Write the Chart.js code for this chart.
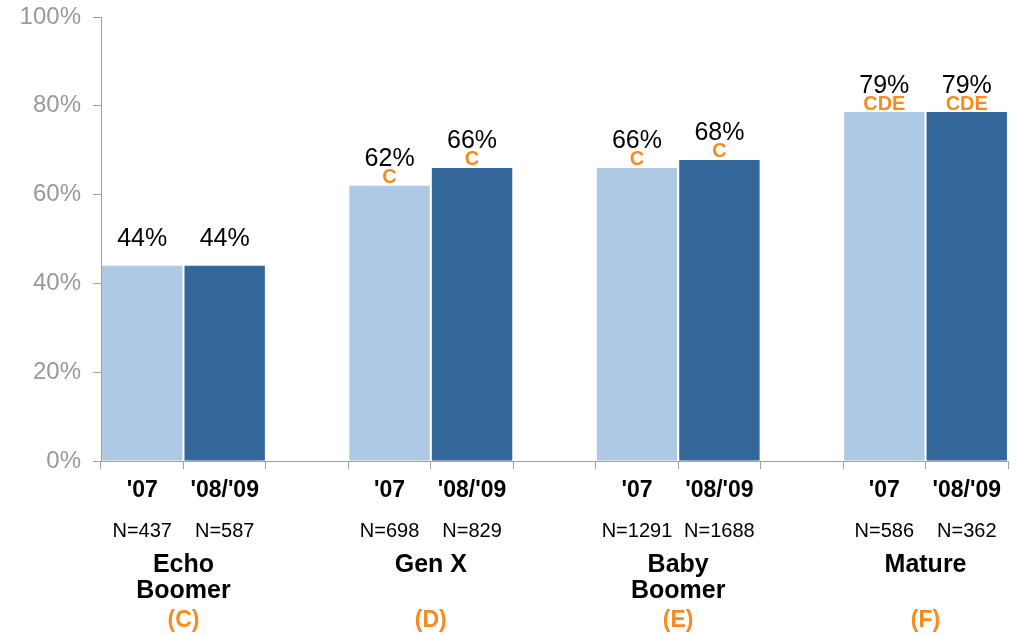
<!DOCTYPE html>
<html><head><meta charset="utf-8">
<script src="https://cdn.jsdelivr.net/npm/chart.js@4/dist/chart.umd.min.js"></script>
<style>html,body{margin:0;padding:0;background:#fff}#wrap{width:1019px;height:634px}</style>
</head><body><div id="wrap"><canvas id="c" width="1019" height="634"></canvas></div>
<script>
const groups = [['Echo','Boomer'], ['Gen X'], ['Baby','Boomer'], ['Mature']];
const groupCodes = ['(C)', '(D)', '(E)', '(F)'];
const years = ["'07", "'08/'09"];
const values07 = [44, 62, 66, 78.6];
const values0809 = [44, 66, 67.8, 78.6];
const n07 = [437, 698, 1291, 586];
const n0809 = [587, 829, 1688, 362];
const sig07 = ['', 'C', 'C', 'CDE'];
const sig0809 = ['', 'C', 'C', 'CDE'];
const yTicks = [0, 20, 40, 60, 80, 100];

const LIGHT = '#adc9e3', DARK = '#336699', ORANGE = '#fa8a1c', GREY = '#a0a0a0';
const FONT = "Arial, 'Liberation Sans', sans-serif";

// build 11 slots: '07, '08/'09, gap ...
const labels = [], data = [], colors = [], meta = [];
groups.forEach((g, i) => {
  labels.push(years[0]); data.push(values07[i]); colors.push(LIGHT); meta.push({g: i, y: 0, n: n07[i], sig: sig07[i]});
  labels.push(years[1]); data.push(values0809[i]); colors.push(DARK); meta.push({g: i, y: 1, n: n0809[i], sig: sig0809[i]});
  if (i < groups.length - 1) { labels.push(''); data.push(null); colors.push('rgba(0,0,0,0)'); meta.push(null); }
});

const labelPlugin = {
  id: 'labels',
  afterDatasetsDraw(chart) {
    const ctx = chart.ctx;
    const m = chart.getDatasetMeta(0);
    ctx.save();
    ctx.textAlign = 'center';
    ctx.textBaseline = 'alphabetic';
    m.data.forEach((bar, i) => {
      const info = meta[i];
      if (!info) return;
      const v = data[i];
      ctx.fillStyle = '#000';
      ctx.font = '25px ' + FONT;
      ctx.fillText(Math.round(v) + '%', bar.x, bar.y - 19.5);
      if (info.sig) {
        ctx.fillStyle = ORANGE;
        ctx.font = 'bold 20px ' + FONT;
        ctx.fillText(info.sig, bar.x, bar.y - 2.5);
      }
    });
    // bottom labels
    const xs = chart.scales.x;
    m.data.forEach((bar, i) => {
      const info = meta[i];
      if (!info) return;
      const x = xs.getPixelForValue(i);
      ctx.fillStyle = '#000';
      ctx.font = 'bold 23px ' + FONT;
      ctx.fillText(labels[i], x, 497);
      ctx.font = '20px ' + FONT;
      ctx.fillText('N=' + info.n, x, 537);
    });
    groups.forEach((g, gi) => {
      const i0 = gi * 3;
      const x = (xs.getPixelForValue(i0) + xs.getPixelForValue(i0 + 1)) / 2;
      ctx.fillStyle = '#000';
      ctx.font = 'bold 25px ' + FONT;
      ctx.fillText(g[0], x, 572);
      if (g.length === 2) ctx.fillText(g[1], x, 598);
      ctx.fillStyle = ORANGE;
      ctx.font = 'bold 23px ' + FONT;
      ctx.fillText(groupCodes[gi], x, 627);
    });
    ctx.restore();
  }
};

new Chart(document.getElementById('c'), {
  type: 'bar',
  data: { labels: labels, datasets: [{ data: data, backgroundColor: colors, barPercentage: 0.975, categoryPercentage: 1 }] },
  options: {
    responsive: false,
    animation: false,
    layout: { padding: { top: 17, right: 11, left: 0, bottom: 0 } },
    plugins: { legend: { display: false }, tooltip: { enabled: false } },
    scales: {
      x: {
        offset: true,
        grid: { display: true, offset: true, drawOnChartArea: false, drawTicks: true, tickLength: 8, color: GREY, lineWidth: 1 },
        border: { display: true, color: GREY, width: 1 },
        ticks: { display: false },
        afterFit(s) { s.height = 173; s.paddingLeft = 0; s.paddingRight = 0; }
      },
      y: {
        min: 0, max: 100,
        afterBuildTicks(s) { s.ticks = yTicks.map(v => ({ value: v })); },
        grid: { display: true, drawOnChartArea: false, drawTicks: true, tickLength: 8, color: GREY },
        border: { display: true, color: GREY, width: 1 },
        ticks: { padding: 12, color: '#999999', font: { size: 24, family: FONT }, callback: v => v + '%' },
        afterFit(s) { s.width = 101; s.paddingTop = 0; s.paddingBottom = 0; }
      }
    }
  },
  plugins: [labelPlugin]
});
</script></body></html>
